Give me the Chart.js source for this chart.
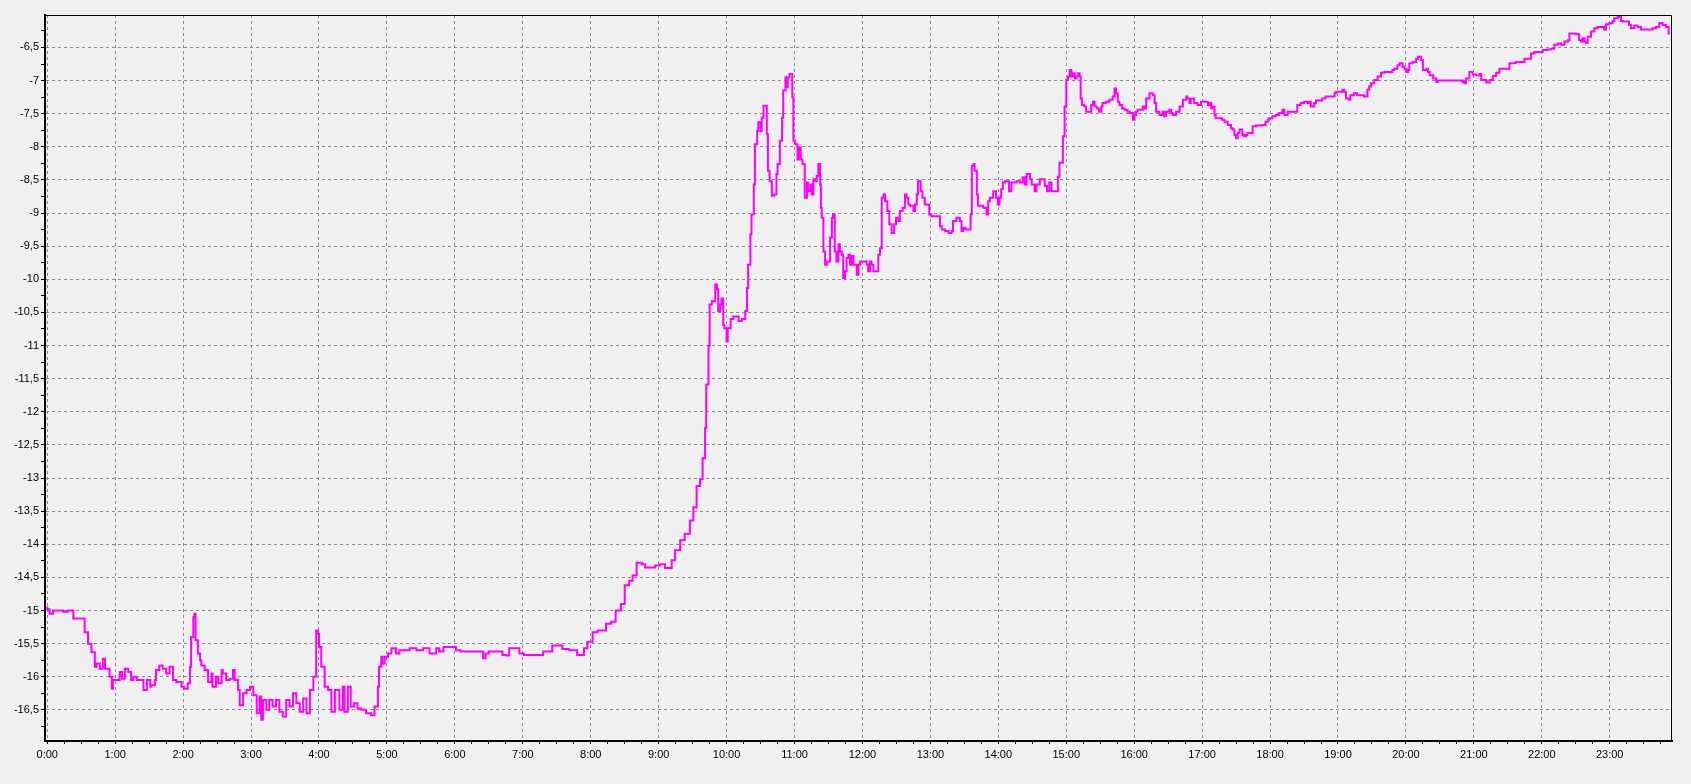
<!DOCTYPE html>
<html>
<head>
<meta charset="utf-8">
<script src="https://cdn.jsdelivr.net/npm/chart.js@4.4.1/dist/chart.umd.min.js"></script>
<style>
  html, body { margin: 0; padding: 0; background: #f0f0f0; }
  #chart { display: block; }
</style>
</head>
<body>
<canvas id="chart" width="1691" height="784"></canvas>
<script>
// time of each reading, minutes after midnight
var timeMinutes = [
  0, 2, 5, 8, 14, 18, 23, 26, 33, 36, 39, 42, 43.5, 46.5, 49, 51, 52, 55, 57, 58,
  61, 64, 66, 68.5, 71.5, 74, 76, 79, 85, 88, 91, 92, 95, 96, 99, 102, 105, 108, 111, 114,
  118.5, 121, 124, 126, 127, 129, 130, 131, 133, 135, 136, 139, 142, 145, 146, 149, 151, 154, 155, 158,
  161, 164, 165.5, 168.5, 170, 173, 176, 179, 182, 185, 187.5, 189, 190.5, 193.5, 196, 199, 202, 205, 208, 211,
  214, 217, 220, 223, 226, 229, 232, 235, 237.5, 239, 240, 242, 245, 248, 251, 254, 255, 258, 261, 262.5,
  265.5, 268, 271, 274, 277, 281.5, 286, 289, 292, 293, 295,
  296, 298, 301, 304, 308, 311, 315.5, 320, 326, 332, 337.6, 343.5, 346, 350, 355, 361, 365, 370, 379, 385,
  387, 390, 396.5, 402, 405, 408, 411, 417, 421, 424, 432, 438, 440.5, 446, 449, 455, 461, 468, 474, 477,
  481.7, 486, 493.5, 498, 502, 506.7, 510, 514, 517, 520.5, 525, 528, 532, 537, 541, 545.6, 548, 551.5, 554.4, 559,
  563, 567.6, 570.6, 573.5, 576.5, 578.8, 581, 582, 584, 585,
  587, 590, 591.5, 592.6, 594.4, 595.5, 597, 598, 600, 601, 603.6, 606, 610.6, 613.5, 616.5, 618, 619, 621, 622, 624,
  625, 627, 628, 630, 631, 632.6, 634, 635.5, 636.5, 638, 640, 642, 644, 645, 647, 649, 650, 652, 652.6, 654,
  655.5, 656.7, 658, 659, 660.5, 662.6, 664, 665.5, 667, 669, 671, 672, 674, 675, 676.6, 678, 679.6, 681, 682.6, 683.3,
  684, 685.5, 687, 688.5, 690, 691.4, 693, 694, 695.5, 697, 698.8, 700, 701.7, 703, 704.6, 706, 707.6, 709, 710.5, 712,
  715, 716.4, 718, 721, 723.8, 725, 726.7, 728, 729.6, 732.6, 734, 735.5, 737, 738.5, 740, 742, 743.7, 745.8, 748, 749.6,
  751.7, 753, 755.5, 757.5, 759, 760.5, 762, 765, 766.5, 768, 769, 771.4, 773, 775, 776.7, 779, 781, 784, 787, 788.5,
  790, 793, 796, 798.7, 800, 803, 806, 807.5, 809, 811, 813.4, 815.5, 816.6, 818, 819, 821, 822, 823.7, 826.7, 829.6,
  831, 832.5, 835.5, 838, 839.5, 841, 842.5, 844, 845.8, 847, 849.5, 851.6, 853, 856, 859, 861.5, 863.4, 865, 868, 869.5,
  872, 873.7, 876.6,
  881, 883, 885, 887, 889.7, 892.6, 894, 897, 898.5, 900, 901.5, 903, 904.4, 906, 907.5, 909, 910.5, 911.8, 912.7, 913.8,
  916, 917.5, 920, 922, 923.5, 925, 927, 929, 931, 932, 935, 938, 941, 942.6, 944, 945.5, 947, 949.4, 951.5, 954,
  956, 958.8, 960.3, 961.7, 963, 964.7, 967.6, 969, 970.6, 973.5, 976.4, 978, 979.4, 982.3, 985, 986.5, 988, 991, 992.6, 994,
  997, 1000, 1003, 1006, 1007, 1008.8, 1010, 1013, 1016, 1019, 1022, 1025, 1026.5, 1028, 1029, 1031, 1032, 1035, 1037.6, 1039.7,
  1042.6, 1045.5, 1047, 1048.5, 1050, 1051.4, 1053, 1054, 1055.5, 1057, 1058.8, 1060, 1061.7, 1064.6, 1067.6, 1070.5, 1073, 1076, 1078, 1079,
  1082, 1085, 1088, 1091, 1092.6, 1095.5, 1097, 1100, 1104, 1107, 1110, 1113, 1114.5, 1116, 1117.6, 1119, 1120.5, 1123.4, 1126, 1129,
  1132, 1137, 1138, 1141, 1144, 1145.5, 1147, 1150, 1151, 1154, 1157, 1160, 1163, 1166, 1167.5, 1169, 1172, 1175, 1178, 1181,
  1185, 1188, 1189.6, 1192.5,
  1194.4, 1197, 1198.8, 1200.3, 1202, 1203, 1206, 1209, 1210.6, 1213.5, 1215, 1218, 1219.5, 1221, 1224, 1226.8, 1228, 1229.7, 1244, 1250,
  1251.7, 1253, 1256, 1259, 1262, 1265, 1266.5, 1268, 1271, 1274, 1276.7, 1279.7, 1282.6, 1285.6, 1291.4, 1297, 1300, 1304.7, 1307.6, 1310.5,
  1313.5, 1316.4, 1320.8, 1325, 1328, 1331, 1334, 1337, 1340, 1343, 1344.4, 1346.7, 1350, 1353, 1354.6, 1356, 1357.6, 1359, 1360.5, 1363.5,
  1366.4, 1369.3, 1372.3, 1375, 1376.7, 1379.6, 1382.6, 1384, 1387, 1388.5, 1390, 1391.6, 1394.5, 1397, 1398.7, 1401.7, 1404.6, 1407.6, 1409, 1413.4,
  1417.9, 1420.8, 1423.7, 1426.7, 1429.6, 1432, 1433.1
];

var values = [
  -14.94, -14.98, -15.05, -15.0, -15.0, -15.02, -15.0, -15.12, -15.12, -15.33, -15.5, -15.63, -15.85, -15.8, -15.88, -15.73, -15.88, -15.88, -16.0, -16.18,
  -16.05, -16.05, -15.93, -16.03, -15.88, -15.93, -16.05, -16.0, -16.05, -16.2, -16.05, -16.15, -16.13, -16.05, -15.9, -15.83, -15.88, -15.95, -15.85, -16.05,
  -16.08, -16.15, -16.18, -16.1, -15.85, -15.4, -15.1, -15.05, -15.45, -15.65, -15.75, -15.83, -15.9, -16.08, -15.95, -16.15, -16.0, -16.1, -15.9, -15.95,
  -16.05, -16.03, -15.9, -16.05, -16.2, -16.43, -16.25, -16.2, -16.15, -16.28, -16.55, -16.3, -16.65, -16.35, -16.5, -16.35, -16.45, -16.35, -16.53, -16.6,
  -16.35, -16.45, -16.25, -16.4, -16.53, -16.33, -16.55, -16.2, -16.0, -15.3, -15.35, -15.55, -15.85, -16.15, -16.2, -16.53, -16.2, -16.2, -16.5, -16.15,
  -16.53, -16.15, -16.45, -16.4, -16.48, -16.5, -16.55, -16.58, -16.45, -16.15, -15.85,
  -15.7, -15.8, -15.7, -15.65, -15.57, -15.65, -15.6, -15.6, -15.57, -15.6, -15.57, -15.65, -15.57, -15.62, -15.55, -15.55, -15.6, -15.62, -15.62, -15.62,
  -15.72, -15.65, -15.62, -15.62, -15.67, -15.68, -15.57, -15.57, -15.65, -15.67, -15.67, -15.67, -15.62, -15.62, -15.53, -15.53, -15.58, -15.6, -15.67, -15.57,
  -15.47, -15.33, -15.3, -15.2, -15.17, -15.0, -14.9, -14.62, -14.55, -14.47, -14.28, -14.3, -14.35, -14.35, -14.32, -14.3, -14.36, -14.36, -14.24, -14.09,
  -13.94, -13.84, -13.64, -13.44, -13.12, -13.02, -12.7, -12.24, -11.59, -11.0,
  -10.38, -10.33, -10.08, -10.15, -10.48, -10.38, -10.29, -10.69, -10.74, -10.94, -10.74, -10.6, -10.56, -10.63, -10.6, -10.48, -10.13, -9.78, -9.32, -9.02,
  -8.57, -7.96, -7.76, -7.63, -7.76, -7.56, -7.38, -7.38, -7.81, -8.36, -8.52, -8.74, -8.72, -8.41, -8.26, -7.91, -7.56, -7.15, -6.95, -7.1,
  -6.95, -6.9, -6.9, -7.25, -7.91, -7.96, -8.19, -8.01, -8.19, -8.26, -8.77, -8.54, -8.67, -8.57, -8.72, -8.49, -8.52, -8.44, -8.26, -8.57,
  -8.92, -9.07, -9.58, -9.78, -9.73, -9.73, -9.37, -9.07, -9.02, -9.58, -9.73, -9.47, -9.58, -9.63, -9.98, -9.88, -9.68, -9.63, -9.78, -9.65,
  -9.78, -9.93, -9.78, -9.73, -9.73, -9.78, -9.88, -9.73, -9.78, -9.88, -9.88, -9.63, -9.53, -8.77, -8.72, -8.82, -8.97, -9.17, -9.3, -9.17,
  -9.07, -9.12, -8.97, -8.92, -8.72, -8.77, -8.87, -8.89, -8.97, -8.87, -8.72, -8.52, -8.67, -8.77, -8.87, -8.87, -9.02, -9.05, -9.05, -9.05,
  -9.2, -9.25, -9.27, -9.3, -9.27, -9.12, -9.07, -9.12, -9.27, -9.22, -9.25, -9.25, -9.02, -8.29, -8.26, -8.36, -8.72, -8.89, -8.89, -8.92,
  -9.02, -8.82, -8.77, -8.67, -8.77, -8.87, -8.77, -8.64, -8.54, -8.52, -8.52, -8.67, -8.54, -8.54, -8.52, -8.54, -8.46, -8.57, -8.41, -8.49,
  -8.57, -8.67, -8.57,
  -8.49, -8.59, -8.67, -8.54, -8.67, -8.67, -8.45, -8.24, -7.84, -7.39, -6.99, -6.94, -6.84, -6.94, -6.89, -6.97, -6.94, -6.89, -6.94, -7.27,
  -7.37, -7.39, -7.47, -7.47, -7.37, -7.32, -7.39, -7.42, -7.47, -7.39, -7.34, -7.32, -7.29, -7.24, -7.12, -7.19, -7.32, -7.37, -7.42, -7.44,
  -7.47, -7.49, -7.59, -7.52, -7.47, -7.44, -7.44, -7.39, -7.42, -7.27, -7.19, -7.22, -7.34, -7.47, -7.52, -7.47, -7.54, -7.47, -7.44, -7.49,
  -7.52, -7.47, -7.39, -7.29, -7.24, -7.27, -7.34, -7.27, -7.34, -7.37, -7.32, -7.32, -7.37, -7.34, -7.42, -7.39, -7.52, -7.57, -7.57, -7.59,
  -7.62, -7.67, -7.72, -7.74, -7.82, -7.87, -7.79, -7.74, -7.74, -7.82, -7.84, -7.82, -7.79, -7.79, -7.69, -7.68, -7.68, -7.67, -7.62, -7.59,
  -7.57, -7.54, -7.52, -7.49, -7.44, -7.52, -7.47, -7.47, -7.47, -7.37, -7.34, -7.32, -7.34, -7.32, -7.39, -7.39, -7.34, -7.3, -7.3, -7.27,
  -7.24, -7.24, -7.19, -7.17, -7.17, -7.14, -7.17, -7.27, -7.29, -7.22, -7.19, -7.22, -7.22, -7.24, -7.14, -7.09, -7.04, -6.99, -6.94, -6.88,
  -6.87, -6.87, -6.84, -6.82,
  -6.77, -6.74, -6.79, -6.82, -6.87, -6.84, -6.74, -6.72, -6.67, -6.64, -6.69, -6.84, -6.82, -6.87, -6.92, -6.97, -7.02, -7.0, -7.0, -7.0,
  -7.02, -7.04, -6.97, -6.87, -6.91, -6.92, -6.9, -6.99, -6.99, -7.03, -6.99, -6.93, -6.88, -6.82, -6.82, -6.74, -6.72, -6.72, -6.67, -6.67,
  -6.59, -6.57, -6.57, -6.54, -6.53, -6.52, -6.46, -6.44, -6.46, -6.41, -6.39, -6.29, -6.29, -6.3, -6.39, -6.41, -6.36, -6.41, -6.43, -6.34,
  -6.26, -6.21, -6.19, -6.19, -6.23, -6.15, -6.13, -6.1, -6.06, -6.03, -6.04, -6.1, -6.11, -6.11, -6.16, -6.21, -6.17, -6.19, -6.23, -6.23,
  -6.23, -6.21, -6.19, -6.13, -6.16, -6.19, -6.29
];

// axis ticks
var yTickValues = [-6.5, -7, -7.5, -8, -8.5, -9, -9.5, -10, -10.5, -11, -11.5, -12, -12.5, -13, -13.5, -14, -14.5, -15, -15.5, -16, -16.5];
var hourLabels = ['0:00', '1:00', '2:00', '3:00', '4:00', '5:00', '6:00', '7:00', '8:00', '9:00', '10:00', '11:00',
  '12:00', '13:00', '14:00', '15:00', '16:00', '17:00', '18:00', '19:00', '20:00', '21:00', '22:00', '23:00'];

var xMin = -2, xMax = 1435;
var yMin = -16.97, yMax = -6.01;

var points = timeMinutes.map(function (t, i) {
  return { x: t, y: values[i] };
});

// thin frame on top and right, the library draws the thick left/bottom axes
var frame = {
  id: 'frame',
  afterDraw: function (chart) {
    var a = chart.chartArea, ctx = chart.ctx;
    ctx.save();
    ctx.strokeStyle = '#000';
    ctx.lineWidth = 1;
    ctx.beginPath();
    ctx.moveTo(a.left, a.top + 0.5);
    ctx.lineTo(a.right - 0.5, a.top + 0.5);
    ctx.lineTo(a.right - 0.5, a.bottom);
    ctx.stroke();
    ctx.restore();
  }
};

var gridGray = '#8a8a8a';

new Chart(document.getElementById('chart'), {
  type: 'line',
  data: {
    datasets: [{
      data: points,
      borderColor: '#ff00ff',
      borderWidth: 2,
      pointRadius: 0,
      stepped: 'after',
      fill: false
    }]
  },
  options: {
    responsive: false,
    animation: false,
    events: [],
    layout: { padding: { top: 15, right: 19, left: 0, bottom: 0 } },
    plugins: { legend: { display: false }, tooltip: { enabled: false } },
    scales: {
      x: {
        type: 'linear',
        min: xMin,
        max: xMax,
        afterBuildTicks: function (scale) {
          var t = [];
          for (var m = 0; m <= 1425; m += 15) t.push({ value: m });
          scale.ticks = t;
        },
        afterFit: function (scale) { scale.height = 43; },
        ticks: {
          autoSkip: false,
          maxRotation: 0,
          padding: 4,
          color: '#000',
          font: { family: 'Liberation Sans', size: 11 },
          callback: function (v) {
            return v % 60 === 0 ? hourLabels[v / 60] : '';
          }
        },
        grid: {
          color: function (ctx) {
            return ctx.tick && ctx.tick.value % 60 === 0 ? gridGray : 'rgba(0,0,0,0)';
          },
          tickColor: '#000',
          tickLength: 3,
          lineWidth: 1
        },
        border: { display: true, color: '#000', width: 2, dash: [3, 3] }
      },
      y: {
        type: 'linear',
        min: yMin,
        max: yMax,
        afterBuildTicks: function (scale) {
          var t = [];
          for (var i = 0; i < yTickValues.length; i++) {
            t.push({ value: yTickValues[i] });
            t.push({ value: yTickValues[i] - 0.25, minor: true });
          }
          t.push({ value: -6.25, minor: true });
          scale.ticks = t;
        },
        afterFit: function (scale) { scale.width = 45; },
        ticks: {
          autoSkip: false,
          padding: 2,
          color: '#000',
          font: { family: 'Liberation Sans', size: 11 },
          callback: function (v) {
            return yTickValues.indexOf(v) >= 0 ? String(v).replace('.', ',') : '';
          }
        },
        grid: {
          color: function (ctx) {
            return ctx.tick && yTickValues.indexOf(ctx.tick.value) >= 0 ? gridGray : 'rgba(0,0,0,0)';
          },
          tickColor: '#000',
          tickLength: 4,
          lineWidth: 1
        },
        border: { display: true, color: '#000', width: 2, dash: [3, 3] }
      }
    }
  },
  plugins: [frame]
});
</script>
</body>
</html>
